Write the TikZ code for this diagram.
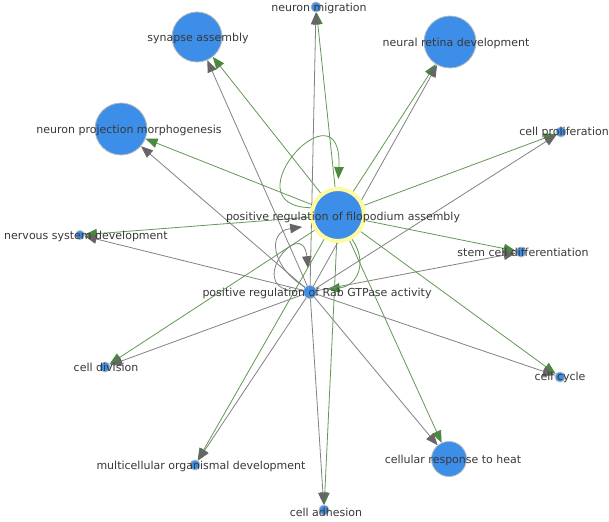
\documentclass[tikz,border=0pt]{standalone}
\usepackage{fontspec}
\setmainfont{DejaVu Sans}
\usetikzlibrary{arrows.meta,backgrounds}
\definecolor{termblue}{RGB}{61,142,232}
\definecolor{filogreen}{RGB}{100,152,86}
\definecolor{filotip}{RGB}{74,136,62}
\definecolor{rabgray}{RGB}{130,130,130}
\definecolor{rabtip}{RGB}{102,102,102}
\definecolor{halo}{RGB}{255,249,160}
\tikzstyle{term}=[circle,fill=termblue,draw=gray!55,line width=0.8pt,inner sep=0pt]
\tikzstyle{txt}=[text=black!78,font=\fontsize{11}{13}\selectfont,inner sep=0pt]
\tikzstyle{filo}=[draw=filogreen,line width=0.8pt,-{Triangle[length=12pt,width=9.5pt,color=filotip]}]
\tikzstyle{rab}=[draw=rabgray,line width=0.8pt,-{Triangle[length=12pt,width=9.5pt,color=rabtip]}]

\begin{document}
\begin{tikzpicture}[x=1pt,y=-1pt]
\useasboundingbox (0,0) rectangle (609,521);
% terms
\node[term,draw=halo,line width=4pt,minimum size=52pt] (filo) at (338,215) {};
\node[term,minimum size=13pt] (rab) at (310,292) {};
\node[term,minimum size=10pt] (mig) at (316,7) {};
\node[term,minimum size=50pt] (syn) at (197,37) {};
\node[term,minimum size=52pt] (ret) at (450,42) {};
\node[term,minimum size=52pt] (npm) at (121,129) {};
\node[term,minimum size=10pt] (pro) at (561,132) {};
\node[term,minimum size=10pt] (stem) at (521,252) {};
\node[term,minimum size=9pt] (nsd) at (80,235) {};
\node[term,minimum size=10pt] (div) at (105,367) {};
\node[term,minimum size=10pt] (cyc) at (560,377) {};
\node[term,minimum size=35pt] (heat) at (449,459) {};
\node[term,minimum size=10pt] (mod) at (195,465) {};
\node[term,minimum size=10pt] (adh) at (324,510) {};
% labels
\node[txt] (filol) at (343,217) {positive regulation of filopodium assembly};
\node[txt] (rabl) at (317,293) {positive regulation of Rab GTPase activity};
\node[txt] (migl) at (319,8) {neuron migration};
\node[txt] (synl) at (198,38) {synapse assembly};
\node[txt] (retl) at (456,43) {neural retina development};
\node[txt] (npml) at (129,130) {neuron projection morphogenesis};
\node[txt] (prol) at (564,132) {cell proliferation};
\node[txt] (steml) at (523,252) {stem cell differentiation};
\node[txt] (nsdl) at (86,236) {nervous system development};
\node[txt] (divl) at (106,367) {cell division};
\node[txt] (cycl) at (560,377) {cell cycle};
\node[txt] (heatl) at (453,460) {cellular response to heat};
\node[txt] (modl) at (201,466) {multicellular organismal development};
\node[txt] (adhl) at (326,512) {cell adhesion};
\begin{pgfonlayer}{background}
\fill[white] (0,0) rectangle (609,521);
% loops and the two curved links
\draw[filo,shorten >=8pt] (filo.165) .. controls (226,206) and (343,78) .. (filo.north);
\draw[rab,shorten >=17pt] (rab.170) .. controls (238,296) and (302,212) .. (rab.north);
\draw[rab,shorten >=10pt] (rab.135) .. controls (272,268) and (266,232) .. (filo.202);
\draw[filo,shorten >=11pt] (filo.300) .. controls (368,262) and (358,286) .. (rab.15);
% filopodium assembly links
\draw[filo] (filo) -- (mig);
\draw[filo] (filo) -- (syn);
\draw[filo] (filo) -- (ret);
\draw[filo] (filo) -- (npm);
\draw[filo] (filo) -- (pro);
\draw[filo] (filo) -- (stem);
\draw[filo] (filo) -- (nsd);
\draw[filo] (filo) -- (div);
\draw[filo] (filo) -- (cyc);
\draw[filo] (filo) -- (heat);
\draw[filo] (filo) -- (mod);
\draw[filo] (filo) -- (adh);
% Rab GTPase links
\draw[rab] (rab) -- (mig);
\draw[rab] (rab) -- (syn);
\draw[rab] (rab) -- (ret);
\draw[rab] (rab) -- (npm);
\draw[rab] (rab) -- (pro);
\draw[rab] (rab) -- (stem);
\draw[rab] (rab) -- (nsd);
\draw[rab] (rab) -- (div);
\draw[rab] (rab) -- (cyc);
\draw[rab] (rab) -- (heat);
\draw[rab] (rab) -- (mod);
\draw[rab] (rab) -- (adh);
\end{pgfonlayer}
\end{tikzpicture}
\end{document}
